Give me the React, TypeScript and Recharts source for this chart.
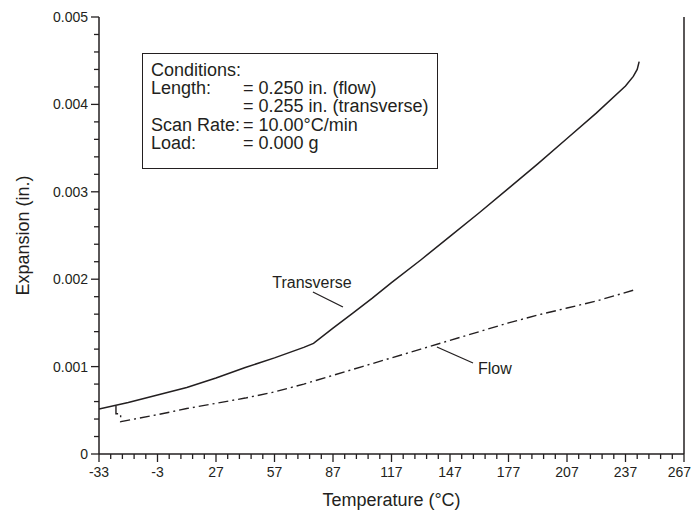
import React from 'react'
import {
	LineChart,
	Line,
	XAxis,
	YAxis,
	ReferenceLine,
	ReferenceDot,
} from 'recharts'

// Transverse curve (solid)
const transverseTemp = [-33, -18, -3, 12, 27, 42, 57, 72, 77, 87, 97, 107, 117, 132, 147, 162, 177, 192, 207, 222, 237, 241, 243, 244]
const transverseExp = [0.000515, 0.00059, 0.000675, 0.00076, 0.00087, 0.00099, 0.0011, 0.00122, 0.001266, 0.00144, 0.00161, 0.00178, 0.00196, 0.00222, 0.00249, 0.00276, 0.00304, 0.00332, 0.00361, 0.0039, 0.00421, 0.00432, 0.0044, 0.00449]

// Flow curve (dash-dot), starts with a small hook below the transverse curve
const flowTemp = [-24.3, -24.3, -21.9, -21.9, -3, 12, 27, 42, 57, 72, 87, 102, 117, 132, 147, 162, 177, 192, 207, 222, 242]
const flowExp = [0.00055, 0.00046, 0.00046, 0.00037, 0.00045, 0.00052, 0.00058, 0.00064, 0.00071, 0.0008, 0.0009, 0.001, 0.0011, 0.0012, 0.0013, 0.0014, 0.0015, 0.00159, 0.00167, 0.00175, 0.00188]

const xMajor = [-33, -3, 27, 57, 87, 117, 147, 177, 207, 237, 267]

const conditions = [
	['Conditions:', ''],
	['Length:', '= 0.250 in. (flow)'],
	['', '= 0.255 in. (transverse)'],
	['Scan Rate:', '= 10.00°C/min'],
	['Load:', '= 0.000 g'],
]

const transverse = transverseTemp.map((x, i) => ({ x, y: transverseExp[i] }))
const flow = flowTemp.map((x, i) => ({ x, y: flowExp[i] }))

// minor ticks every 6 deg / 0.0002 in.
const xTicks: number[] = []
for (let i = 0; i <= 50; i++) xTicks.push(-33 + i * 6)
const yTicks: number[] = []
for (let i = 0; i <= 25; i++) yTicks.push(i / 5000)

const FONT = '"Liberation Sans", Arial, sans-serif'
const INK = '#231f20'

const XTick = (props: any) => {
	const { x, y, payload } = props
	const major = xMajor.includes(payload.value)
	const last = payload.value === 267
	return (
		<g>
			<line x1={x} y1={y} x2={x} y2={y + (major ? 8 : 5)} stroke={INK} strokeWidth={1.3} />
			{major && (
				<text
					x={last ? x + 7 : x}
					y={y + 23}
					textAnchor={last ? 'end' : 'middle'}
					fontSize={14}
					fontFamily={FONT}
					fill={INK}
				>
					{payload.value}
				</text>
			)}
		</g>
	)
}

const YTick = (props: any) => {
	const { x, y, payload } = props
	const v = payload.value
	const major = Math.abs(v * 1000 - Math.round(v * 1000)) < 1e-6
	return (
		<g>
			<line x1={x} y1={y} x2={x - (major ? 8 : 5)} y2={y} stroke={INK} strokeWidth={1.3} />
			{major && (
				<text x={x - 11} y={y + 5} textAnchor="end" fontSize={14} fontFamily={FONT} fill={INK}>
					{v === 0 ? '0' : v.toFixed(3)}
				</text>
			)}
		</g>
	)
}

const App = () => {
	return (
		<div style={{ position: 'absolute', left: 0, top: 0, width: 693, height: 512, background: '#fff', fontFamily: FONT }}>
			<LineChart width={693} height={512} margin={{ top: 17, right: 9, left: 39, bottom: 28 }}>
				<XAxis
					type="number"
					dataKey="x"
					domain={[-33, 267]}
					ticks={xTicks}
					interval={0}
					allowDataOverflow
					stroke={INK}
					strokeWidth={1.5}
					tickSize={0}
					tickMargin={0}
					tick={<XTick />}
					height={30}
					label={{ value: 'Temperature (°C)', position: 'bottom', offset: 9, fontSize: 18, fill: INK, fontFamily: FONT }}
				/>
				<YAxis
					type="number"
					dataKey="y"
					domain={[0, 0.005]}
					ticks={yTicks}
					interval={0}
					allowDataOverflow
					stroke={INK}
					strokeWidth={1.5}
					tickSize={0}
					tickMargin={0}
					tick={<YTick />}
					width={60}
					label={{ value: 'Expansion (in.)', angle: -90, position: 'left', offset: 16, fontSize: 18, fill: INK, fontFamily: FONT, style: { textAnchor: 'middle' } }}
				/>
				<ReferenceLine x={267} stroke={INK} strokeWidth={1.5} ifOverflow="extendDomain" />
				<Line
					data={transverse}
					dataKey="y"
					type="linear"
					stroke={INK}
					strokeWidth={1.5}
					dot={false}
					isAnimationActive={false}
				/>
				<Line
					data={flow}
					dataKey="y"
					type="linear"
					stroke={INK}
					strokeWidth={1.4}
					strokeDasharray="10 4 2 4"
					dot={false}
					isAnimationActive={false}
				/>
				<ReferenceLine segment={[{ x: 76.7, y: 0.001854 }, { x: 92.1, y: 0.001682 }]} stroke={INK} strokeWidth={1.3} />
				<ReferenceLine segment={[{ x: 140.3, y: 0.001224 }, { x: 158.8, y: 0.001041 }]} stroke={INK} strokeWidth={1.3} />
				<ReferenceDot
					x={76.2}
					y={0.00197}
					r={0}
					stroke="none"
					label={{ value: 'Transverse', position: 'center', fontSize: 16, fill: INK, fontFamily: FONT }}
				/>
				<ReferenceDot
					x={170}
					y={0.000985}
					r={0}
					stroke="none"
					label={{ value: 'Flow', position: 'center', fontSize: 16, fill: INK, fontFamily: FONT }}
				/>
			</LineChart>
			<div
				style={{
					position: 'absolute',
					left: 142,
					top: 53,
					width: 296,
					height: 116,
					border: `1.5px solid ${INK}`,
					padding: '7px 0 0 8px',
					boxSizing: 'border-box',
					fontSize: 18,
					lineHeight: '18.2px',
					color: INK,
				}}
			>
				{conditions.map(([k, v], i) => (
					<div key={i} style={{ display: 'flex', whiteSpace: 'nowrap' }}>
						<span style={{ width: 92, flex: 'none' }}>{k}</span>
						<span>{v}</span>
					</div>
				))}
			</div>
		</div>
	)
}

export default App
